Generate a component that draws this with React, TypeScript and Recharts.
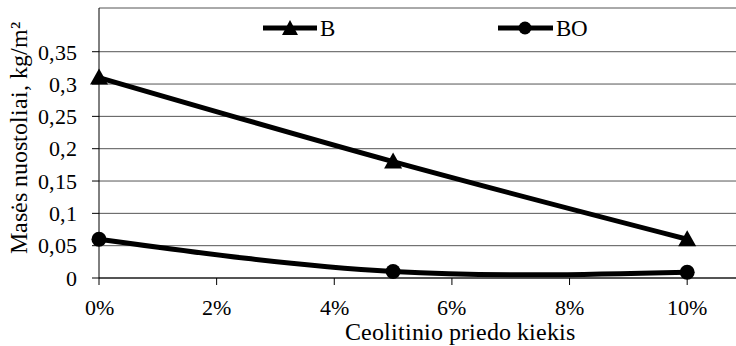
import React from 'react'
import { LineChart, Line, XAxis, YAxis, CartesianGrid, ReferenceLine } from 'recharts'

// ceolito priedo kiekis (dalis)
const additive = [0, 0.05, 0.1]
const seriesB = [0.31, 0.18, 0.06]
const seriesBO = [0.06, 0.01, 0.009]
const xTicks = [0, 0.02, 0.04, 0.06, 0.08, 0.1]
const yTicks = [0, 0.05, 0.1, 0.15, 0.2, 0.25, 0.3, 0.35]

const data = additive.map((x, i) => ({ x, B: seriesB[i], BO: seriesBO[i] }))

const W = 736
const H = 346
const X_MAX = 0.1083
const Y_MAX = 0.4176
const FONT = "ChartSerif, 'Liberation Serif', serif"

const fontCss = `@font-face {
  font-family: 'ChartSerif';
  src: local('Liberation Serif'), local('LiberationSerif'), local('LiberationSerif-Regular'),
    local('Times New Roman'), local('DejaVu Serif'), local('DejaVuSerif');
}`

const fmtY = (v: number) => String(v).replace('.', ',')
const fmtX = (v: number) => `${Math.round(v * 100)}%`

function Triangle(props: any) {
  const { cx, cy } = props
  if (cx == null || cy == null) return null
  return <path d={`M${cx},${cy - 9} L${cx + 9},${cy + 7} L${cx - 9},${cy + 7} Z`} fill="#000" />
}

function Dot(props: any) {
  const { cx, cy } = props
  if (cx == null || cy == null) return null
  return <circle cx={cx} cy={cy} r={7.5} fill="#000" />
}

function LegendOverlay() {
  return (
    <svg width={W} height={50} style={{ position: 'absolute', left: 0, top: 0 }}>
      <line x1={263} y1={28} x2={317} y2={28} stroke="#000" strokeWidth={5} />
      <path d="M290,20 L298,35 L282,35 Z" fill="#000" />
      <text x={320} y={36} fontSize={23} fontFamily={FONT} fill="#000">B</text>
      <line x1={498} y1={28} x2={553} y2={28} stroke="#000" strokeWidth={5} />
      <circle cx={525} cy={28} r={6.5} fill="#000" />
      <text x={556} y={36} fontSize={23} fontFamily={FONT} fill="#000">BO</text>
    </svg>
  )
}

function YTitle() {
  return (
    <text
      x={19}
      y={138}
      transform="rotate(-90 19 138)"
      textAnchor="middle"
      dominantBaseline="central"
      fontSize={24}
      fontFamily={FONT}
      fill="#000"
    >
      Masės nuostoliai, kg/m²
    </text>
  )
}

function XTitle() {
  return (
    <text x={460} y={340} textAnchor="middle" fontSize={24} fontFamily={FONT} fill="#000">
      Ceolitinio priedo kiekis
    </text>
  )
}

export default function App() {
  return (
    <div
      style={{
        position: 'absolute',
        left: 0,
        top: 0,
        width: W,
        height: H,
        overflow: 'hidden',
        background: '#fff',
      }}
    >
      <style>{fontCss}</style>
      <LineChart width={W} height={H} data={data} margin={{ top: 8, right: 0, left: 0, bottom: 0 }}>
        <CartesianGrid horizontal vertical={false} horizontalValues={yTicks} stroke="#555" strokeWidth={1} />
        <ReferenceLine y={Y_MAX} stroke="#555" strokeWidth={1} />
        <XAxis
          dataKey="x"
          type="number"
          domain={[0, X_MAX]}
          ticks={xTicks}
          interval={0}
          tickFormatter={fmtX}
          height={68}
          stroke="#000"
          tickSize={7}
          tickMargin={14}
          tick={{ fill: '#000', fontSize: 22, fontFamily: FONT }}
          label={<XTitle />}
        />
        <YAxis
          type="number"
          domain={[0, Y_MAX]}
          ticks={yTicks}
          interval={0}
          tickFormatter={fmtY}
          width={99}
          stroke="#000"
          tickSize={7}
          tickMargin={15}
          tick={{ fill: '#000', fontSize: 22, fontFamily: FONT }}
          label={<YTitle />}
        />
        <Line
          dataKey="B"
          type="natural"
          stroke="#000"
          strokeWidth={5}
          dot={<Triangle />}
          activeDot={false}
          isAnimationActive={false}
        />
        <Line
          dataKey="BO"
          type="natural"
          stroke="#000"
          strokeWidth={5}
          dot={<Dot />}
          activeDot={false}
          isAnimationActive={false}
        />
      </LineChart>
      <LegendOverlay />
    </div>
  )
}
